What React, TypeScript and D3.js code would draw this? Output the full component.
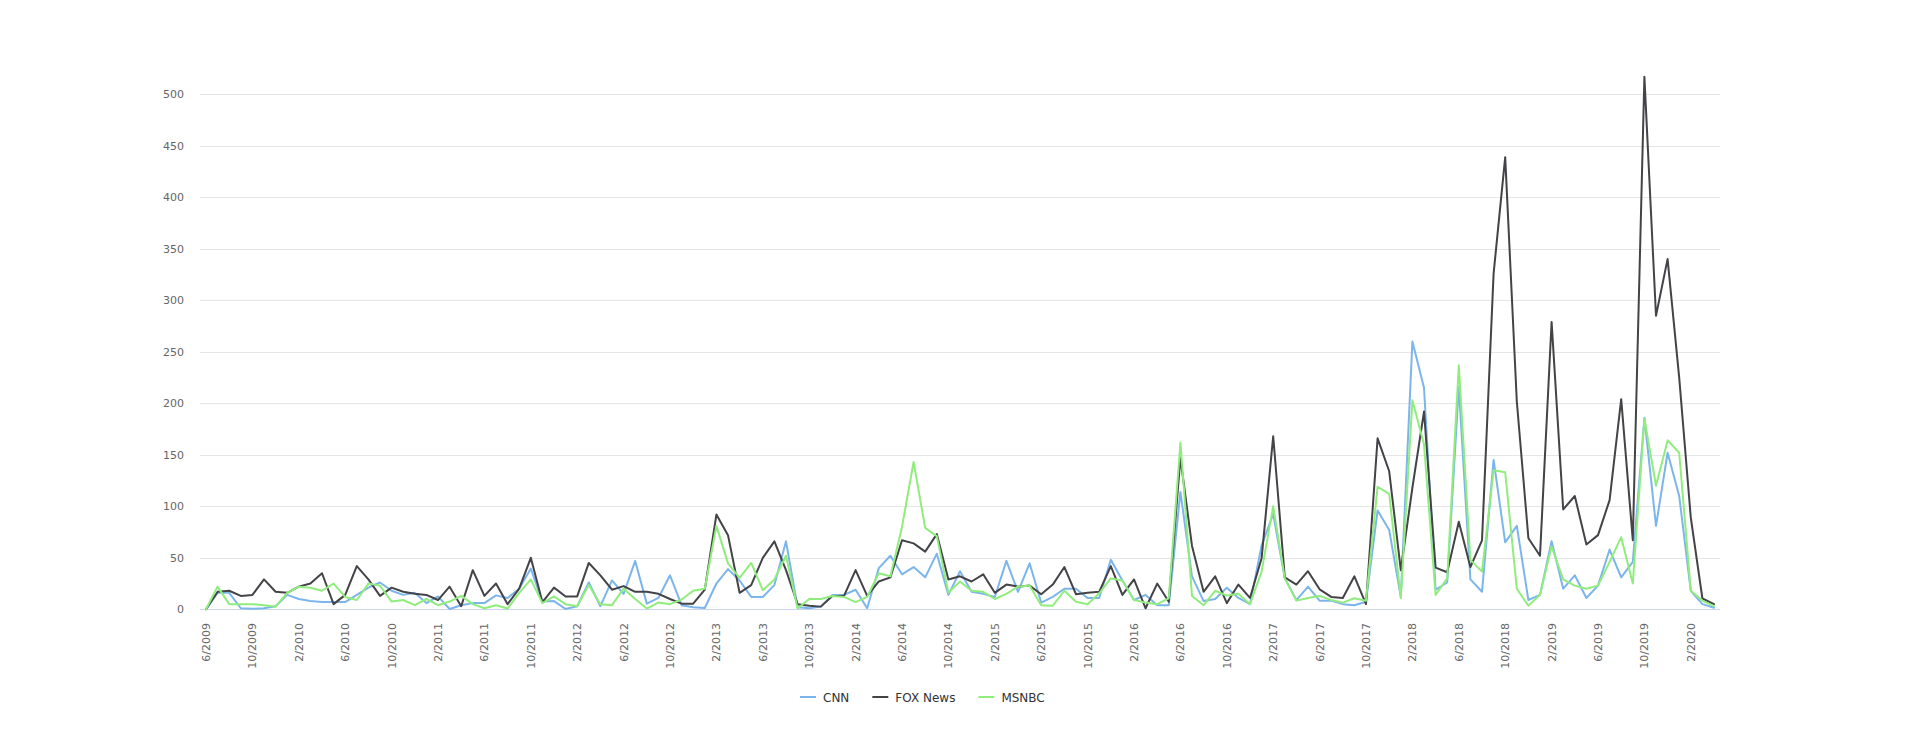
import React from "react";
import * as d3 from "d3";

// monthly values, 6/2009 .. 4/2020
const cnnValues = [
  0, 16, 16, 1, 0.5, 1, 3, 14, 10, 8, 7, 7, 7, 14, 21, 26, 18, 14, 16, 6, 12.5, 0.3, 4, 6, 6, 13.5, 11, 20, 39.5, 7.5,
  8, 0.3, 3, 26, 3, 28, 15, 47, 5.5, 11, 33, 4, 2, 1.3, 25, 39, 28, 12, 12, 23.5, 66, 2, 1, 2.6, 14, 14, 19, 1, 40, 52,
  34, 41, 31, 54, 14, 37, 17, 15, 12, 47, 17, 44.7, 6.5, 12, 20, 20, 11, 11, 48, 28, 9, 14, 4, 4, 114, 32, 8, 10, 21, 11,
  5, 62, 92.5, 30, 9, 22, 8.4, 8.4, 5, 4, 7.4, 96, 77, 12, 260, 215, 19, 26, 216, 29, 17, 145, 65, 81, 9, 14, 66, 20,
  33, 11, 23, 58, 31, 46, 186, 81, 152, 110, 18, 5, 1.5,
];
const foxValues = [
  0, 17, 18, 13, 14, 29, 17, 16, 22, 25, 35, 5, 14, 42, 29, 13, 21, 17, 15, 14, 9, 22, 3, 38, 13, 25, 5, 20, 50, 7,
  21, 12.5, 12.5, 45, 33, 19, 22.5, 17, 17, 15, 10, 5.5, 5.5, 19, 92, 72, 16, 23.5, 50, 66, 38, 5, 3.5, 2.6, 13, 13, 38,
  13, 27, 31, 67, 64, 56, 73, 29, 32, 27, 34, 16, 24, 22, 23, 14.6, 24, 41, 14.6, 16, 17, 42, 14, 29, 1, 25, 7.4, 147,
  61.5, 17, 32, 6, 24, 11, 49.5, 168, 31, 24, 37, 19.4, 12, 11, 32, 5, 166, 134, 38, 118, 192, 40.5, 36, 85, 41, 67,
  326, 439, 202, 69, 52, 279, 97, 110, 63, 72, 106, 204, 67, 517, 285, 340, 225, 89, 10.5, 5,
];
const msnbcValues = [
  0, 22, 5, 5, 5, 4, 2.5, 16, 22, 21, 18, 25, 12, 9, 25, 23, 7.5, 9, 4, 10, 4, 7.5, 13, 5, 1, 4, 0.7, 16, 29, 6, 12.5,
  5, 3, 23.5, 5, 4, 20, 10, 0.7, 6.5, 5, 9.5, 18, 20, 81, 44.6, 30.6, 45, 18.6, 29, 52, 0.7, 10, 10, 13, 12, 7, 12, 35,
  32, 80, 143, 79, 71, 16, 27, 18, 17, 10, 15, 22, 23, 4, 3.5, 18, 7.4, 5, 15.5, 30, 28, 9, 6.5, 5, 10.7, 162, 13, 4,
  18, 13.3, 15, 5, 36.6, 100, 30, 8.4, 11, 13, 9, 6.5, 10.7, 8.4, 119, 112, 11, 203, 160, 14, 30, 237, 48, 36.6, 135,
  133, 20, 3.5, 14, 61, 29, 23, 20, 23, 46, 70, 25, 185, 120, 164, 152, 18, 8.5, 3,
];

const seriesNames = ["CNN", "FOX News", "MSNBC"];
const seriesColors = ["#7cb5ec", "#434348", "#90ed7d"];

// one label every 4 months, starting at the first month
const xTickLabels = [
  "6/2009", "10/2009", "2/2010", "6/2010", "10/2010", "2/2011", "6/2011", "10/2011", "2/2012", "6/2012", "10/2012",
  "2/2013", "6/2013", "10/2013", "2/2014", "6/2014", "10/2014", "2/2015", "6/2015", "10/2015", "2/2016", "6/2016",
  "10/2016", "2/2017", "6/2017", "10/2017", "2/2018", "6/2018", "10/2018", "2/2019", "6/2019", "10/2019", "2/2020",
];
const yTicks = [0, 50, 100, 150, 200, 250, 300, 350, 400, 450, 500];

const FONT = '"DejaVu Sans", "Lucida Grande", sans-serif';

const App: React.FC = () => {
  const ref = React.useRef<SVGSVGElement>(null);

  React.useEffect(() => {
    const svg = d3.select(ref.current);
    svg.selectAll("*").remove();

    const plotLeft = 200,
      plotRight = 1720;
    const n = cnnValues.length;

    const x = d3.scaleLinear().domain([0, n - 1]).range([206, 1714]);
    const y = d3.scaleLinear().domain([0, 500]).range([609.3, 94.3]);

    // grid
    svg
      .append("g")
      .selectAll("line")
      .data(yTicks.filter((d) => d > 0))
      .join("line")
      .attr("x1", plotLeft)
      .attr("x2", plotRight)
      .attr("y1", (d) => Math.round(y(d)) + 0.5)
      .attr("y2", (d) => Math.round(y(d)) + 0.5)
      .attr("stroke", "#e6e6e6")
      .attr("stroke-width", 1);

    svg
      .append("g")
      .selectAll("text")
      .data(yTicks)
      .join("text")
      .attr("x", 184)
      .attr("y", (d) => y(d) + 4)
      .attr("text-anchor", "end")
      .attr("font-family", FONT)
      .attr("font-size", 11)
      .attr("fill", "#666666")
      .text((d) => d);

    // x axis
    svg
      .append("line")
      .attr("x1", plotLeft)
      .attr("x2", plotRight)
      .attr("y1", Math.round(y(0)) + 0.5)
      .attr("y2", Math.round(y(0)) + 0.5)
      .attr("stroke", "#ccd6eb")
      .attr("stroke-width", 1);

    svg
      .append("g")
      .selectAll("text")
      .data(xTickLabels)
      .join("text")
      .attr("transform", (_, i) => `translate(${x(i * 4) + 4},623) rotate(-90)`)
      .attr("text-anchor", "end")
      .attr("font-family", FONT)
      .attr("font-size", 11)
      .attr("fill", "#666666")
      .text((d) => d);

    // series
    const line = d3
      .line<number>()
      .x((_, i) => x(i))
      .y((d) => y(d));

    [cnnValues, foxValues, msnbcValues].forEach((vals, si) => {
      svg
        .append("path")
        .datum(vals)
        .attr("fill", "none")
        .attr("stroke", seriesColors[si])
        .attr("stroke-width", 2)
        .attr("stroke-linejoin", "round")
        .attr("stroke-linecap", "round")
        .attr("d", line);
    });

    // legend
    const legend = svg.append("g");
    let cx = 800;
    seriesNames.forEach((name, i) => {
      legend
        .append("line")
        .attr("x1", cx)
        .attr("x2", cx + 16)
        .attr("y1", 697)
        .attr("y2", 697)
        .attr("stroke", seriesColors[i])
        .attr("stroke-width", 2);
      const t = legend
        .append("text")
        .attr("x", cx + 23)
        .attr("y", 701.5)
        .attr("font-family", FONT)
        .attr("font-size", 12)
        .attr("fill", "#333333")
        .text(name);
      const w = (t.node() as SVGTextElement).getComputedTextLength();
      cx += 23 + w + 23;
    });
  }, []);

  return (
    <svg
      ref={ref}
      width={1920}
      height={740}
      style={{ position: "absolute", left: 0, top: 0, background: "#ffffff" }}
    />
  );
};

export default App;
